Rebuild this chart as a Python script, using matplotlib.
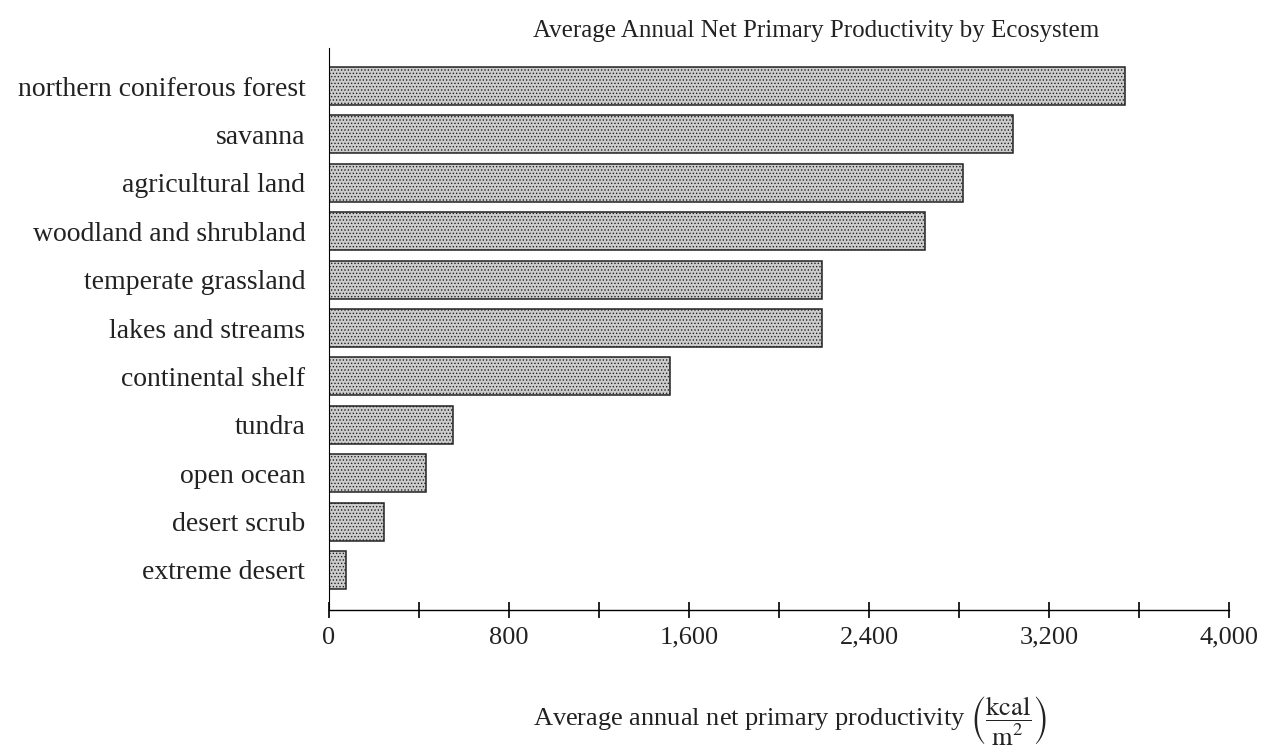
import numpy as np
import matplotlib
matplotlib.use('Agg')
import matplotlib.pyplot as plt

# Data
ecosystems = ['northern coniferous forest', 'savanna', 'agricultural land',
              'woodland and shrubland', 'temperate grassland', 'lakes and streams',
              'continental shelf', 'tundra', 'open ocean', 'desert scrub',
              'extreme desert']
npp = [3540, 3040, 2820, 2650, 2190, 2190, 1515, 550, 430, 245, 75]

major_ticks = [0, 800, 1600, 2400, 3200, 4000]
minor_ticks = [400, 1200, 2000, 2800, 3600]
tick_labels = ['0', '800', '1,600', '2,400', '3,200', '4,000']

plt.rcParams['font.family'] = ['Liberation Serif', 'DejaVu Serif']
plt.rcParams['mathtext.fontset'] = 'stix'
plt.rcParams['hatch.color'] = '#666666'
plt.rcParams['hatch.linewidth'] = 0.6

fig = plt.figure(figsize=(12.7, 7.52), dpi=100)
ax = fig.add_axes([0.259, 0.189, 0.7087, 0.747])

ypos = np.arange(len(ecosystems))
ax.barh(ypos, npp, height=0.785, color='#cccccc', edgecolor='#222222',
        linewidth=1.1, hatch='.....')

ax.set_ylim(len(ecosystems) - 1 + 0.826, -0.785)
ax.set_xlim(0, 4000)

ax.set_yticks(ypos)
ax.set_yticklabels(ecosystems, fontsize=20, color='#222222')
ax.tick_params(axis='y', length=0, pad=17)

ax.set_xticks(major_ticks)
ax.set_xticklabels(tick_labels, fontsize=19, color='#222222')
ax.set_xticks(minor_ticks, minor=True)
ax.tick_params(axis='x', which='both', direction='inout', length=12,
               width=1.4, color='#222222', pad=6)

for s in ['top', 'right']:
    ax.spines[s].set_visible(False)
ax.spines['left'].set_linewidth(0.8)
ax.spines['bottom'].set_linewidth(1.0)

ax.set_title('Average Annual Net Primary Productivity by Ecosystem',
             fontsize=18, color='#222222', pad=8, x=0.541)
ax.set_xlabel(r'Average annual net primary productivity $\left(\dfrac{\mathrm{kcal}}{\mathrm{m}^2}\right)$',
              fontsize=19, color='#222222')
ax.xaxis.set_label_coords(0.512, -0.15)

fig.savefig('out.png', dpi=100)
